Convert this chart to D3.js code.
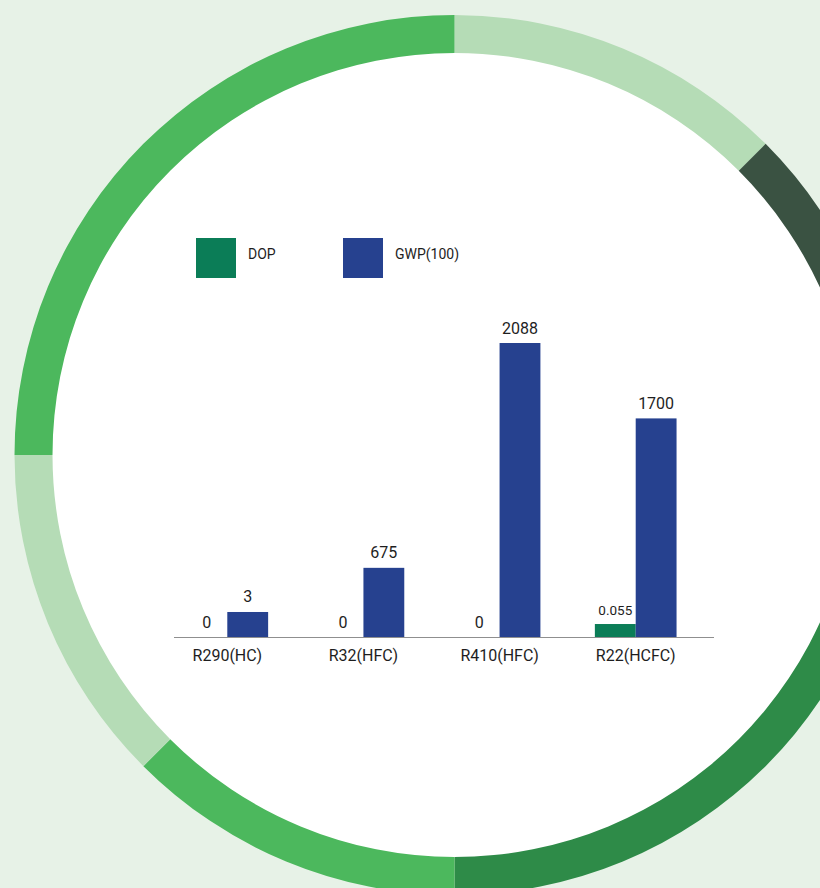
<!DOCTYPE html>
<html>
<head>
<meta charset="utf-8">
<script src="https://cdn.jsdelivr.net/npm/d3@7"></script>
<style>
  html, body { margin: 0; padding: 0; background: #e7f2e7; }
  svg { display: block; font-family: Roboto, "Noto Sans", sans-serif; }
</style>
</head>
<body>
<svg class="canvas" width="820" height="888"></svg>
<script>
// data
const categories = ["R290(HC)", "R32(HFC)", "R410(HFC)", "R22(HCFC)"];
const dopValues = [0, 0, 0, 0.055];
const gwpValues = [3, 675, 2088, 1700];
const seriesNames = ["DOP", "GWP(100)"];
const seriesColors = ["#0b7d57", "#26418f"];

// ring segments, clockwise from 12 o'clock (span in eighths of the circle)
const ringColors = ["#b5dcb6", "#3a5242", "#2e8b48", "#4cb85d", "#b5dcb6", "#4cb85d"];
const ringSpans = [1, 1, 2, 1, 1, 2];

const cx = 454.5;
const cy = 455;
const baseY = 637;

const svg = d3.select(".canvas");

// background ring
const pie = d3.pie().value(d => d.span).sort(null);
const arc = d3.arc().innerRadius(402).outerRadius(440);

const ring = svg.append("g").attr("transform", `translate(${cx},${cy})`);
ring.append("circle").attr("r", 403).attr("fill", "#fff");
ring
  .selectAll("path")
  .data(pie(ringColors.map((c, i) => ({ color: c, span: ringSpans[i] }))))
  .enter()
  .append("path")
  .attr("d", arc)
  .attr("fill", d => d.data.color);

// scales
const x0 = d3.scaleBand().domain(categories).range([132, 731]).paddingInner(0.4).paddingOuter(0.4);
const x1 = d3.scaleBand().domain(seriesNames).range([0, x0.bandwidth()]);

// gwp values are drawn on a stretched scale, dop on its own
const yGwp = d3.scalePow().exponent(1.6).domain([0, 2088]).range([25, 294]);
const yDop = d3.scaleLinear().domain([0, 1]).range([0, 236]);

const rows = categories.map((c, i) => ({
  cat: c,
  vals: [
    { key: "DOP", v: dopValues[i], h: dopValues[i] ? yDop(dopValues[i]) : 0 },
    { key: "GWP(100)", v: gwpValues[i], h: yGwp(gwpValues[i]) }
  ]
}));

const chart = svg.append("g");

const groups = chart
  .selectAll("g.cat")
  .data(rows)
  .enter()
  .append("g")
  .attr("class", "cat")
  .attr("transform", d => `translate(${x0(d.cat)},0)`);

groups
  .selectAll("rect")
  .data(d => d.vals)
  .enter()
  .append("rect")
  .attr("x", d => x1(d.key))
  .attr("width", x1.bandwidth())
  .attr("y", d => baseY - d.h)
  .attr("height", d => d.h)
  .attr("fill", (d, i) => seriesColors[i]);

groups
  .selectAll("text")
  .data(d => d.vals)
  .enter()
  .append("text")
  .attr("x", d => x1(d.key) + x1.bandwidth() / 2)
  .attr("y", d => baseY - d.h - 9.5)
  .attr("text-anchor", "middle")
  .attr("fill", "#1e1e1e")
  .style("font-size", d => (d.v > 0 && d.v < 1 ? "13.5px" : "16px"))
  .text(d => d.v);

// axis
const xAxis = d3.axisBottom(x0).tickSize(0).tickPadding(13);
const axisG = chart.append("g").attr("transform", `translate(0,${baseY})`).call(xAxis);
axisG.select(".domain").remove();
axisG.selectAll("text").attr("fill", "#1e1e1e").style("font-size", "16px").style("font-family", "Roboto, sans-serif");

chart
  .append("line")
  .attr("x1", 174)
  .attr("x2", 714)
  .attr("y1", baseY + 0.5)
  .attr("y2", baseY + 0.5)
  .attr("stroke", "#8f8f8f")
  .attr("stroke-width", 1.2);

// legend
const legend = svg
  .append("g")
  .selectAll("g")
  .data(seriesNames)
  .enter()
  .append("g")
  .attr("transform", (d, i) => `translate(${196 + i * 147},238)`);

legend
  .append("rect")
  .attr("width", 40)
  .attr("height", 40)
  .attr("fill", (d, i) => seriesColors[i]);

legend
  .append("text")
  .attr("x", 52)
  .attr("y", 16)
  .attr("dy", "0.35em")
  .attr("fill", "#1e1e1e")
  .style("font-size", "14px")
  .text(d => d);
</script>
</body>
</html>
